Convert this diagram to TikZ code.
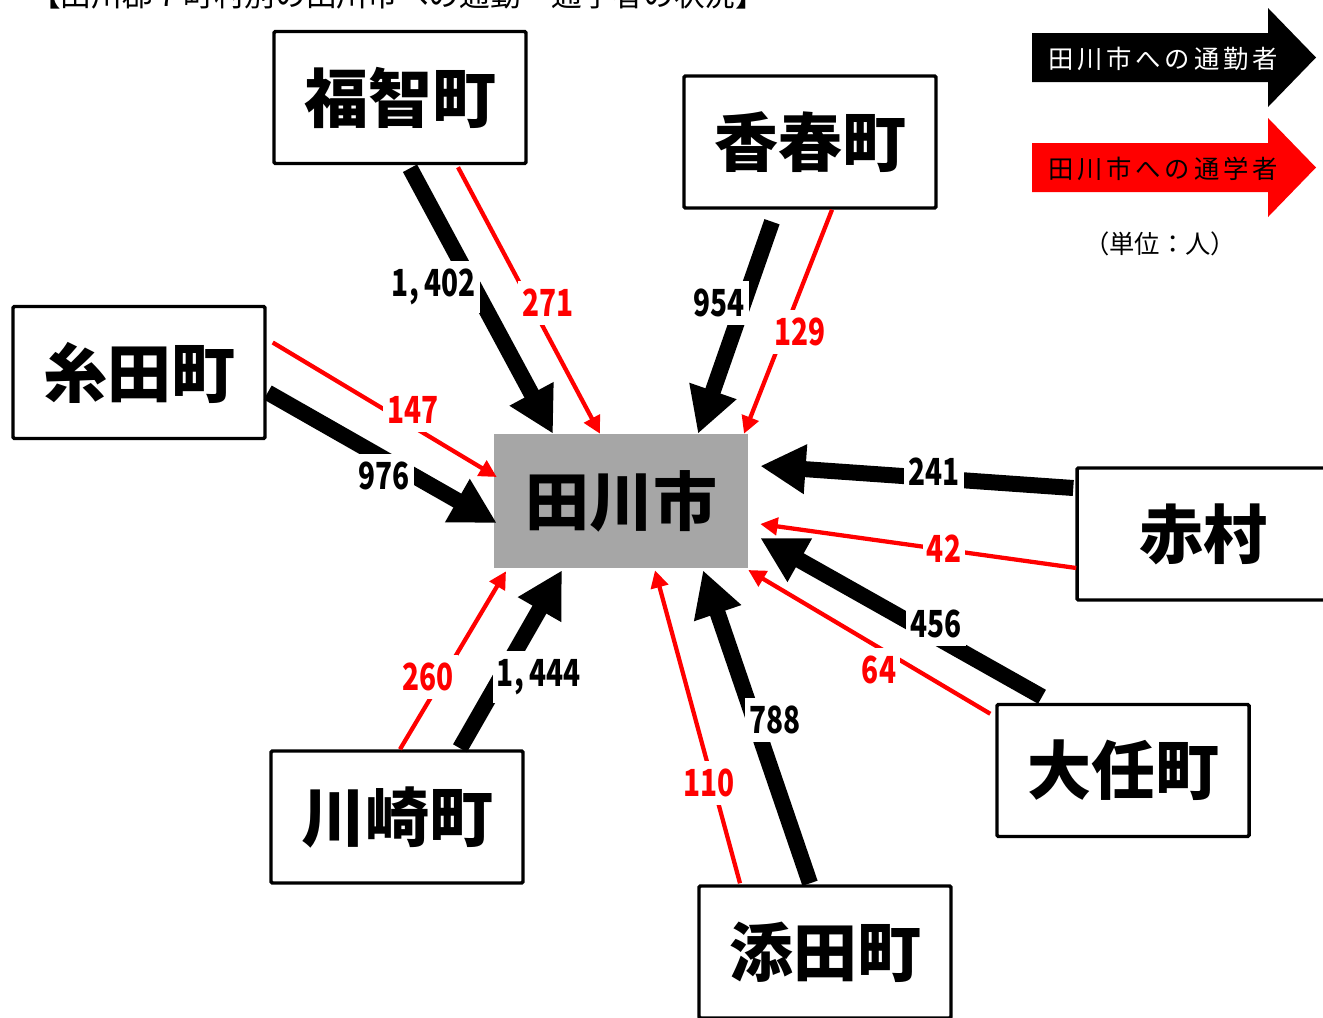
\documentclass[tikz,border=0pt]{standalone}
\usepackage{fontspec}
\setmainfont{Noto Sans CJK JP}
\usetikzlibrary{arrows.meta,calc}
\definecolor{cityg}{HTML}{A6A6A6}
\newcommand\numtxt[1]{\scalebox{0.75}[1]{#1}}
\begin{document}
\begin{tikzpicture}[x=0.75pt,y=-0.75pt,
  townbox/.style={draw, line width=2.6pt, rounded corners=1pt, fill=white,
    minimum width=189pt, minimum height=99pt, inner sep=0pt,
    font=\fontsize{48pt}{48pt}\selectfont\bfseries},
  citybox/.style={fill=cityg, minimum width=190.5pt, minimum height=100.5pt, inner sep=0pt,
    font=\fontsize{48pt}{48pt}\selectfont\bfseries},
  blk/.style={draw=black, line width=12pt, -{Triangle[length=34pt,width=35pt]}},
  rdarrow/.style={draw=red, line width=3.2pt, -{Triangle[length=13pt,width=13pt]}},
  numlbl/.style={fill=white, inner xsep=3pt, inner ysep=6pt, text=black,
    font=\fontsize{28pt}{28pt}\selectfont\bfseries},
  rnumlbl/.style={numlbl, text=red},
  legtext/.style={font=\fontsize{19pt}{19pt}\selectfont\addfontfeatures{LetterSpace=15}}
]
\useasboundingbox (0,0) rectangle (1323,1017);
\clip (0,0) rectangle (1323,1017);

\node[anchor=base, inner sep=0pt, font=\fontsize{23pt}{23pt}\selectfont] (title) at (398,7) {【田川郡７町村別の田川市への通勤・通学者の状況】};

% town boxes
\node[townbox] (fk) at (400,97.5) {福智町};
\node[townbox] (kw) at (810,142) {香春町};
\node[townbox] (it) at (139,372.5) {糸田町};
\node[citybox] (tg) at (621,501) {田川市};
\node[townbox] (ak) at (1203,534) {赤村};
\node[townbox] (ot) at (1123,770.5) {大任町};
\node[townbox] (kz) at (397,817) {川崎町};
\node[townbox] (so) at (825,952) {添田町};

% connectors
\draw[blk] ($(fk.south)+(10,3)$) -- ($(tg.north)+(-68,0)$);
\draw[rdarrow] ($(fk.south)+(58,2)$) -- ($(tg.north)+(-21,0)$);
\draw[blk] ($(kw.south)+(-38,12)$) -- ($(tg.north)+(77,0)$);
\draw[rdarrow] ($(kw.south)+(22,0)$) -- ($(tg.north)+(123,0)$);
\draw[blk] ($(it.east)+(1,20)$) -- ($(tg.west)+(3,22)$);
\draw[rdarrow] ($(it.east)+(6,-30)$) -- ($(tg.west)+(3,-24)$);
\draw[blk] ($(ak.west)+(-2,-46)$) -- ($(tg.east)+(12,-35)$);
\draw[rdarrow] ($(ak.west)+(1,34)$) -- ($(tg.east)+(12,23)$);
\draw[blk] ($(ot.north)+(-81,-6)$) -- ($(tg.east)+(12,37)$);
\draw[rdarrow] ($(ot.north west)+(-5,11)$) -- ($(tg.east)+(0,69)$);
\draw[blk] ($(so.north)+(-15,-1)$) -- ($(tg.south)+(82,2)$);
\draw[rdarrow] ($(so.north)+(-85,-1)$) -- ($(tg.south)+(34,2)$);
\draw[blk] ($(kz.north)+(63,-1)$) -- ($(tg.south)+(-59,2)$);
\draw[rdarrow] ($(kz.north)+(3,0)$) -- ($(tg.south)+(-115,3)$);

% labels
\node[numlbl] (n1402) at (434,287) {\numtxt{1,\kern6pt 402}};
\node[rnumlbl] (n271) at (548,303) {\numtxt{271}};
\node[numlbl] (n954) at (719,303) {\numtxt{954}};
\node[rnumlbl] (n129) at (800,332) {\numtxt{129}};
\node[rnumlbl] (n147) at (413,410) {\numtxt{147}};
\node[numlbl] (n976) at (384,476) {\numtxt{976}};
\node[numlbl] (n241) at (934,472) {\numtxt{241}};
\node[rnumlbl] (n42) at (944,549) {\numtxt{42}};
\node[numlbl] (n456) at (936,624) {\numtxt{456}};
\node[rnumlbl] (n64) at (879,670) {\numtxt{64}};
\node[numlbl] (n788) at (775,720) {\numtxt{788}};
\node[rnumlbl] (n110) at (709,783) {\numtxt{110}};
\node[rnumlbl] (n260) at (428,677) {\numtxt{260}};
\node[numlbl] (n1444) at (539,677) {\numtxt{1,\kern6pt 444}};

% legend
\fill[black] (1032,33) -- (1268,33) -- (1268,8) -- (1316,57.5) -- (1268,107) -- (1268,82) -- (1032,82) -- cycle;
\node[legtext, text=white] (lg1) at (1163,59) {田川市への通勤者};
\fill[red] (1032,143) -- (1268,143) -- (1268,118) -- (1316,167.5) -- (1268,217) -- (1268,192) -- (1032,192) -- cycle;
\node[legtext, text=black] (lg2) at (1163,169) {田川市への通学者};
\node[font=\fontsize{19pt}{19pt}\selectfont] (unit) at (1160,244) {（単位：人）};
\end{tikzpicture}
\end{document}
